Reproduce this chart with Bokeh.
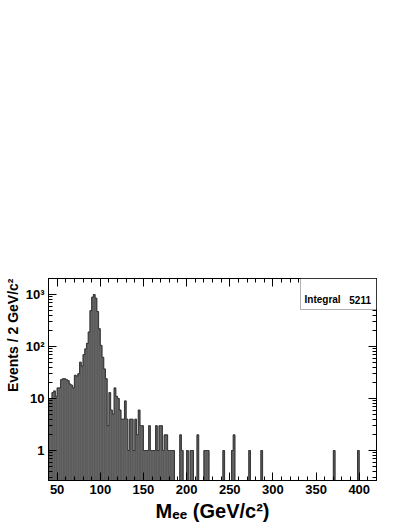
import numpy as np
from bokeh.plotting import figure
from bokeh.models import Range1d, LinearAxis, LogAxis, FixedTicker, Label, BoxAnnotation, Title
from bokeh.embed import file_html
from bokeh.resources import INLINE

# ---------------- data ----------------
bin_low_edge = [40, 42, 44, 46, 48, 50, 52, 54, 56, 58,
                60, 62, 64, 66, 68, 70, 72, 74, 76, 78,
                80, 82, 84, 86, 88, 90, 92, 94, 96, 98,
                100, 102, 104, 106, 108, 110, 112, 114, 116, 118,
                120, 122, 124, 126, 128, 130, 132, 134, 136, 138,
                140, 142, 144, 146, 148, 150, 152, 154, 156, 158,
                160, 162, 164, 166, 168, 170, 172, 174, 176, 178,
                180, 182, 184, 192, 194, 200, 204, 206, 212, 220,
                222, 224, 242, 252, 254, 272, 286, 370, 398]
events = [10, 10, 13, 14, 11, 16, 16, 23, 24, 24,
          23, 22, 19, 18, 16, 28, 27, 30, 50, 42,
          70, 90, 115, 190, 490, 890, 1000, 850, 470, 220,
          105, 62, 37, 24, 3, 13, 6, 5, 16, 11,
          10, 6, 4, 4, 9, 4, 1, 4, 4, 1,
          4, 2, 6, 3, 3, 1, 1, 1, 3, 1,
          1, 1, 3, 1, 3, 3, 1, 2, 2, 1,
          1, 1, 1, 2, 1, 1, 1, 1, 2, 1,
          1, 1, 1, 1, 2, 1, 1, 1, 1]
bin_width = 2.0
x_limits = [40, 420]
y_limits = [0.265, 2030]
x_tick_values = [50, 100, 150, 200, 250, 300, 350, 400]
x_minor_values = [v for v in range(40, 421, 10) if v % 50 != 0]
y_tick_values = [1, 10, 100, 1000]
y_tick_labels = ["1", "10", "10\u00b2", "10\u00b3"]
y_minor_values = ([0.3, 0.4, 0.5, 0.6, 0.7, 0.8, 0.9] + list(range(2, 10))
                  + list(range(20, 100, 10)) + list(range(200, 1000, 100)) + [2000])
x_title = "M\u2091\u2091 (GeV/c\u00b2)"
y_title = "Events / 2 GeV/c\u00b2"
stat_name = "Integral"
stat_value = "5211"

FONT = "Liberation Sans"
FILL = "#5c5c5c"

# full histogram grid
n_bins = int(round((x_limits[1] - x_limits[0]) / bin_width))
counts = np.zeros(n_bins)
for lo, c in zip(bin_low_edge, events):
    counts[int(round((lo - x_limits[0]) / bin_width))] = c
edges = x_limits[0] + bin_width * np.arange(n_bins + 1)

p = figure(width=408, height=528, y_axis_type="log",
           x_range=Range1d(*x_limits), y_range=Range1d(*y_limits),
           output_backend="svg", toolbar_location=None,
           min_border_left=48, min_border_right=32,
           min_border_top=278, min_border_bottom=48)
p.xgrid.visible = False
p.ygrid.visible = False
p.outline_line_color = "black"
p.outline_line_width = 1
p.background_fill_color = "white"
p.border_fill_color = "white"

# bars
left = np.array(bin_low_edge, dtype=float)
p.quad(left=left, right=left + bin_width, top=events, bottom=y_limits[0],
       fill_color=FILL, line_color=FILL, line_width=0.6)

# dark step outline
clipped = np.where(counts > 0, counts, y_limits[0])
xs = np.repeat(edges, 2)[1:-1]
ys = np.repeat(clipped, 2)
p.line(xs, ys, line_color="#262626", line_width=0.8)


def style_axis(ax, show_labels=True):
    ax.axis_line_color = "black"
    ax.axis_line_width = 1
    ax.major_tick_line_color = "black"
    ax.minor_tick_line_color = "black"
    ax.major_tick_in = 8
    ax.major_tick_out = 0
    ax.minor_tick_in = 4
    ax.minor_tick_out = 0
    ax.major_label_text_font = FONT
    ax.major_label_text_font_style = "bold"
    ax.major_label_text_font_size = "13px"
    ax.major_label_text_color = "black"
    if not show_labels:
        ax.major_label_text_font_size = "1px"
        ax.major_label_text_color = None
        ax.major_label_standoff = 0


x_ticker = FixedTicker(ticks=x_tick_values, minor_ticks=x_minor_values)
y_ticker = FixedTicker(ticks=y_tick_values, minor_ticks=y_minor_values)

xa = p.xaxis[0]
xa.ticker = x_ticker
style_axis(xa)
xa.major_label_standoff = 4

ya = p.yaxis[0]
ya.ticker = y_ticker
ya.major_label_overrides = {v: t for v, t in zip(y_tick_values, y_tick_labels)}
style_axis(ya)
ya.major_label_standoff = 4

top_axis = LinearAxis(ticker=x_ticker)
style_axis(top_axis, False)
p.add_layout(top_axis, "above")

right_axis = LogAxis(ticker=y_ticker)
style_axis(right_axis, False)
p.add_layout(right_axis, "right")

# axis titles as side-panel titles
p.add_layout(Title(text=y_title, align="right", text_font=FONT, text_font_style="bold",
                   text_font_size="14px", text_color="black", standoff=4, offset=0),
             "left")
p.add_layout(Title(text=x_title, align="center", text_font=FONT, text_font_style="bold",
                   text_font_size="20px", text_color="black", standoff=2, offset=-4),
             "below")

# statistics box (canvas units, y from the top)
p.add_layout(BoxAnnotation(left=300, right=376, top=278, bottom=309,
                           left_units="canvas", right_units="canvas",
                           top_units="canvas", bottom_units="canvas",
                           fill_color="white", fill_alpha=1.0,
                           line_color="black", line_width=1))
p.add_layout(Label(x=304, y=299, x_units="canvas", y_units="canvas", text=stat_name,
                   text_align="left", text_baseline="alphabetic",
                   text_font=FONT, text_font_style="bold", text_font_size="10px",
                   text_color="black"))
p.add_layout(Label(x=370.5, y=299, x_units="canvas", y_units="canvas", text=stat_value,
                   text_align="right", text_baseline="alphabetic",
                   text_font=FONT, text_font_style="bold", text_font_size="10px",
                   text_color="black"))

open("out.html", "w").write(file_html(p, INLINE))
